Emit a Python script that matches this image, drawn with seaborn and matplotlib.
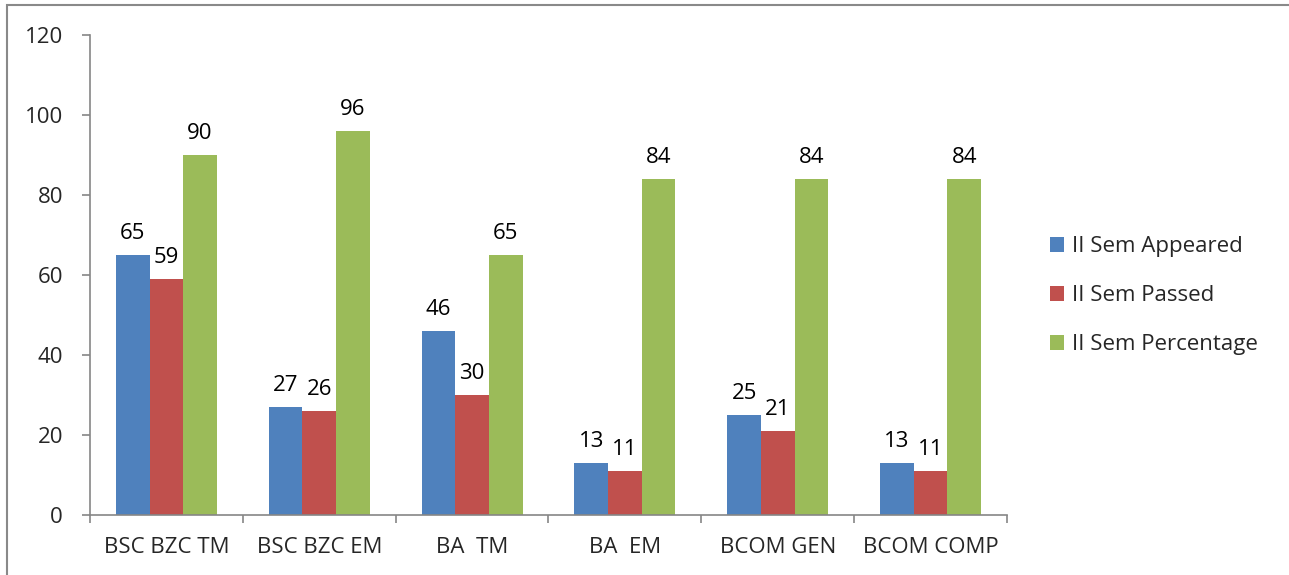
import matplotlib
matplotlib.use("Agg")
import matplotlib.pyplot as plt
import seaborn as sns
import pandas as pd
import numpy as np
from matplotlib.patches import Rectangle

categories = ["BSC BZC TM", "BSC BZC EM", "BA  TM", "BA  EM", "BCOM GEN", "BCOM COMP"]
appeared = [65, 27, 46, 13, 25, 13]
passed = [59, 26, 30, 11, 21, 11]
percentage = [90, 96, 65, 84, 84, 84]
series_names = ["II Sem Appeared", "II Sem Passed", "II Sem Percentage"]
colors = ["#4F81BD", "#C0504D", "#9BBB59"]
yticks = [0, 20, 40, 60, 80, 100, 120]

sns.set_theme(style="white")
plt.rcParams['font.family'] = ['Open Sans', 'DejaVu Sans']

rows = []
for name, vals in zip(series_names, [appeared, passed, percentage]):
    for c, v in zip(categories, vals):
        rows.append({"Category": c, "Series": name, "Value": v})
df = pd.DataFrame(rows)

fig = plt.figure(figsize=(12.89, 5.75), dpi=100)
ax = fig.add_axes([90/1289, 1-515/575, (1007-90)/1289, (515-35)/575])

sns.barplot(data=df, x="Category", y="Value", hue="Series", order=categories,
            hue_order=series_names, palette=colors, width=0.66, ax=ax,
            saturation=1, errorbar=None, edgecolor="none", linewidth=0)

for cont in ax.containers:
    ax.bar_label(cont, padding=8, fontsize=16, color="black")

ax.set_xlim(-0.5, len(categories) - 0.5)
ax.set_ylim(0, 120)
ax.set_yticks(yticks)
ax.set_xlabel("")
ax.set_ylabel("")

spine_color = "#868686"
for s in ["top", "right"]:
    ax.spines[s].set_visible(False)
for s in ["left", "bottom"]:
    ax.spines[s].set_color(spine_color)
    ax.spines[s].set_linewidth(1.2)

ax.tick_params(axis="y", which="major", direction="out", length=5.5, width=1.2,
               color=spine_color, labelsize=16, pad=14, left=True)
ax.tick_params(axis="x", which="major", length=0, labelsize=16, pad=16)
ax.set_xticks(np.arange(-0.5, len(categories), 1.0), minor=True)
ax.tick_params(axis="x", which="minor", direction="out", length=6, width=1.2,
               color=spine_color, bottom=True)

leg = ax.legend(loc="center left", bbox_to_anchor=(1.025, 0.457), frameon=False,
                fontsize=16, handlelength=0.65, handleheight=0.65, handletextpad=0.35,
                labelspacing=1.25)

fig.patches.append(Rectangle((7/1289, -0.02), 1.0, 1 - 5/575 + 0.02,
                             transform=fig.transFigure, fill=False,
                             edgecolor="#898989", linewidth=1.5))

fig.savefig("out.png", dpi=100)
